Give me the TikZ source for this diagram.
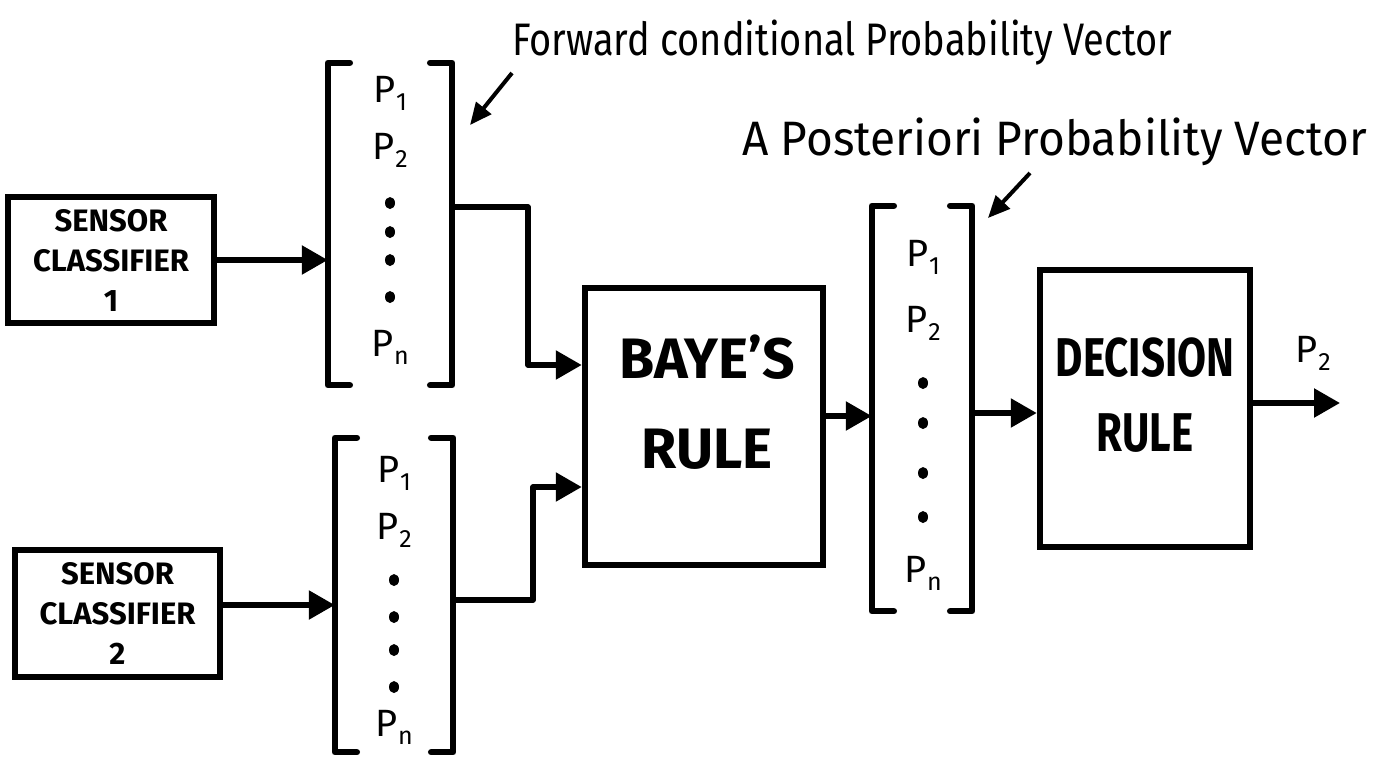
\documentclass[tikz,border=0pt]{standalone}
\usepackage{fontspec}
\setmainfont{Fira Sans}
\usetikzlibrary{arrows.meta}
% probability entry: P with a lowered index
\newcommand\pent[1]{P\kern1pt\raisebox{-0.4ex}{\fontsize{25}{25}\selectfont #1}}
\begin{document}
\begin{tikzpicture}[x=1pt,y=-1pt,
  block/.style={draw, line width=6.5pt, inner sep=0pt},
  sensortext/.style={align=center, font=\fontsize{31}{40}\selectfont\bfseries},
  bigtext/.style={align=center, font=\fontsize{57}{90}\selectfont\bfseries},
  dectext/.style={align=center, font=\fontsize{42}{75}\selectfont\bfseries},
  wire/.style={line width=5.5pt, line join=round},
  feed/.style={wire, -{Triangle[length=26pt,width=28pt]}},
  pointer/.style={line width=4pt, -{Triangle[length=22pt,width=19pt]}},
  brk/.style={line width=6.5pt, line cap=round, line join=round},
  vec/.style={inner sep=0pt},
  entry/.style={font=\fontsize{38}{38}\selectfont},
  note/.style={anchor=base west, inner sep=0pt},
  dotpt/.style={fill=black}
]
\useasboundingbox (0,0) rectangle (1383,764);

% sensor classifiers
\node[block, sensortext, minimum width=206pt, minimum height=126pt] (s1) at (111,260) {SENSOR\\CLASSIFIER\\1};
\node[block, sensortext, minimum width=205pt, minimum height=127pt] (s2) at (117.5,613.5) {SENSOR\\CLASSIFIER\\2};

% vectors (bracket frames)
\node[vec, minimum width=124pt, minimum height=322pt] (v1) at (390,224) {};
\node[vec, minimum width=118pt, minimum height=314pt] (v2) at (394,595) {};
\node[vec, minimum width=100pt, minimum height=405pt] (v3) at (922,408.5) {};

\foreach \v in {v1,v2,v3}{
  \draw[brk] ([xshift=22pt]\v.north west) -- (\v.north west) -- (\v.south west) -- ([xshift=22pt]\v.south west);
  \draw[brk] ([xshift=-22pt]\v.north east) -- (\v.north east) -- (\v.south east) -- ([xshift=-22pt]\v.south east);
}

% vector 1 entries
\node[entry] (a1) at (390,93) {\pent{1}};
\node[entry] (a2) at (390,150) {\pent{2}};
\foreach \y in {203,232,260,297} \fill[dotpt] (390,\y) ellipse (5pt and 6pt);
\node[entry] (an) at (390,347) {\pent{n}};

% vector 2 entries
\node[entry] (b1) at (394,473) {\pent{1}};
\node[entry] (b2) at (394,530) {\pent{2}};
\foreach \y in {580,617,650,687} \fill[dotpt] (394,\y) ellipse (5pt and 6pt);
\node[entry] (bn) at (394,727) {\pent{n}};

% vector 3 entries
\node[entry] (c1) at (923,257) {\pent{1}};
\node[entry] (c2) at (923,323) {\pent{2}};
\foreach \y in {383,423,473,517} \fill[dotpt] (923,\y) ellipse (5pt and 6pt);
\node[entry] (cn) at (923,573) {\pent{n}};

% Bayes and decision blocks
\node[block, minimum width=238pt, minimum height=277pt] (bayes) at (704,426.5) {};
\node[bigtext] (bayestxt) at (707,402) {BAYE'S\\RULE};
\node[block, minimum width=210pt, minimum height=277pt] (dec) at (1145,408.5) {};
\node[dectext] (dectxt) at (1145,395) {\scalebox{1}[1.3]{DECISION}\\\scalebox{1}[1.3]{RULE}};

% connectors
\coordinate (j1a) at (528,207);
\coordinate (j1b) at (528,365);
\coordinate (j2a) at (533,600);
\coordinate (j2b) at (533,487);
\coordinate (out) at (1340,403);

\draw[feed] (s1.east) -- (s1.east -| v1.west);
\draw[feed] ([yshift=8.5pt]s2.east) -- ([yshift=8.5pt]s2.east -| v2.west);
\draw[feed] (v1.east |- j1a) -- (j1a) -- (j1b) -- (j1b -| bayes.west);
\draw[feed] (v2.east |- j2a) -- (j2a) -- (j2b) -- (j2b -| bayes.west);
\draw[feed] ([yshift=10.5pt]bayes.east) -- ([yshift=10.5pt]bayes.east -| v3.west);
\draw[feed] ([yshift=-4.5pt]v3.east) -- ([yshift=-4.5pt]v3.east -| dec.west);
\draw[feed] (dec.east |- out) -- (out);
\node[entry] (pout) at (1313,353) {\pent{2}};

% annotations
\node[note, font=\fontsize{38}{38}\selectfont] (fwd) at (512,55) {\scalebox{1}[1.2]{Forward conditional Probability Vector}};
\node[note, font=\fontsize{46}{46}\selectfont] (post) at (742,155) {\scalebox{1}[1.05]{A Posteriori Probability Vector}};
\coordinate (f1) at (512,73);
\coordinate (f2) at (470,125);
\coordinate (p1) at (1030,173);
\coordinate (p2) at (988,218);
\draw[pointer] (f1) -- (f2);
\draw[pointer] (p1) -- (p2);
\end{tikzpicture}
\end{document}
